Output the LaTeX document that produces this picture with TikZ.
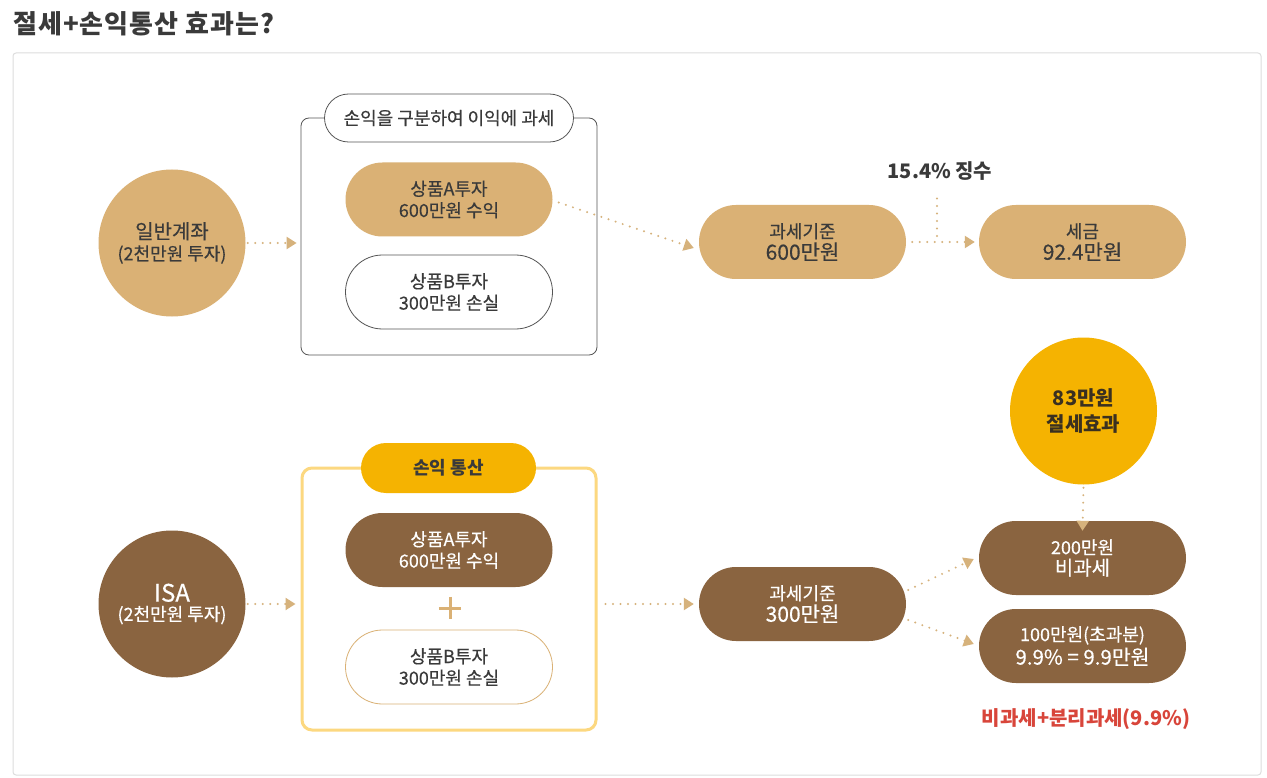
\documentclass[tikz,border=0pt]{standalone}
\usepackage{fontspec}
\setmainfont{Noto Sans CJK KR}[UprightFeatures={FakeBold=0.4}]
\usetikzlibrary{arrows.meta}
\definecolor{tan}{HTML}{DAB175}
\definecolor{dottan}{HTML}{D6B27C}
\definecolor{brown}{HTML}{8A6440}
\definecolor{amber}{HTML}{F5B301}
\definecolor{ybord}{HTML}{FCD880}
\definecolor{txt}{HTML}{3A3A3A}
\definecolor{savetxt}{HTML}{3A3020}
\definecolor{redtxt}{HTML}{D8453A}
\definecolor{grayb}{HTML}{DDDDDD}
\definecolor{darkb}{HTML}{555555}
\newcommand{\fs}[1]{\fontsize{#1}{#1}\selectfont}
\tikzset{
  pill/.style={rectangle, rounded corners=37pt, minimum width=207pt, minimum height=74pt, align=center, inner sep=0pt, font=\fs{18}, text=txt},
  tanpill/.style={pill, fill=tan},
  brownpill/.style={pill, fill=brown, text=white},
  whitepill/.style={pill, fill=white, draw=darkb, line width=0.8pt},
  bigcirc/.style={circle, minimum size=147pt, inner sep=0pt, align=center, text=txt},
  dotline/.style={draw=dottan, line width=2.2pt, line cap=round, dash pattern=on 0pt off 7.5pt},
  dotarrow/.style={dotline, -{Triangle[length=10pt,width=12pt,fill=dottan]}},
}
\begin{document}
\begin{tikzpicture}[x=1pt,y=-1pt]
\useasboundingbox (0,0) rectangle (1267,778);
\fill[white] (0,0) rectangle (1267,778);
% title
\node[anchor=west, font=\fs{26}\bfseries\addfontfeatures{LetterSpace=4}, text=txt, inner sep=0pt] (title) at (13,24) {절세+손익통산 효과는?};
% outer panel
\node[draw=grayb, line width=1pt, rounded corners=3pt, minimum width=1248pt, minimum height=722pt, inner sep=0pt] (panel) at (637,414) {};

% ---------- top row ----------
\node[bigcirc, fill=tan] (gen) at (172,243) {{\fs{20}일반계좌}\\[4pt]{\fs{18}(2천만원 투자)}};
\node[draw=darkb, line width=0.8pt, rounded corners=8pt, minimum width=296pt, minimum height=237pt, inner sep=0pt] (topbox) at (449,236.5) {};
\node[pill, fill=white, draw=darkb, line width=0.8pt, minimum width=249pt, minimum height=48pt, rounded corners=24pt] (toplbl) at (449,118) {손익을 구분하여 이익에 과세};
\node[tanpill] (pa1) at (449,199.5) {상품A투자\\[3.5pt]600만원 수익};
\node[whitepill] (pb1) at (449,292) {상품B투자\\[3.5pt]300만원 손실};
\node[tanpill] (tax1) at (802.5,242) {과세기준\\[2pt]{\fs{21}600만원}};
\node[tanpill] (fee) at (1082.5,242) {세금\\[2pt]{\fs{21}92.4만원}};
\node[font=\fs{20}\bfseries, text=txt, inner sep=0pt] (rate) at (940,171) {15.4\% 징수};
\coordinate (j) at (937,242);

\draw[dotarrow] ([xshift=2pt]gen.east) -- ([xshift=-4pt]topbox.west |- gen.east);
\draw[dotarrow] ([xshift=6pt,yshift=-3pt]pa1.east) -- ([xshift=-5pt,yshift=-6pt]tax1.west);
\draw[dotarrow] ([xshift=6pt]tax1.east) -- ([xshift=-4pt]fee.west);
\draw[dotline] ([yshift=-18pt]rate.south -| j) -- (j);

% ---------- bottom row ----------
\node[bigcirc, fill=brown, text=white] (isa) at (172,604) {{\fs{24}ISA}\\[3pt]{\fs{18}(2천만원 투자)}};
\node[draw=ybord, line width=3pt, rounded corners=10pt, minimum width=294pt, minimum height=262pt, inner sep=0pt] (botbox) at (449,599) {};
\node[pill, fill=amber, minimum width=175pt, minimum height=50pt, rounded corners=25pt, font=\fs{18}\bfseries] (botlbl) at (448.5,468) {손익 통산};
\node[brownpill] (pa2) at (449,550) {상품A투자\\[3.5pt]600만원 수익};
\node[minimum size=22pt, inner sep=0pt] (plus) at (450,608) {};
\draw[tan, line width=3pt] (plus.west) -- (plus.east) (plus.north) -- (plus.south);
\node[pill, fill=white, draw=tan, line width=0.8pt] (pb2) at (449,667) {상품B투자\\[3.5pt]300만원 손실};
\node[brownpill] (tax2) at (802.5,604) {과세기준\\[2pt]{\fs{21}300만원}};
\node[brownpill] (free) at (1082.5,558) {200만원\\[3pt]{\fs{20}비과세}};
\node[brownpill] (sep) at (1082.5,646) {100만원(초과분)\\[2pt]{\fs{20.5}9.9\% = 9.9만원}};
\node[bigcirc, fill=amber, font=\fs{20}\bfseries, text=savetxt] (save) at (1083.5,411) {83만원\\[6pt]절세효과};
\node[font=\fs{20}\bfseries, text=redtxt, inner sep=0pt] (note) at (1086,719) {비과세+분리과세(9.9\%)};

\draw[dotarrow] ([xshift=2pt]isa.east) -- ([xshift=-5pt]botbox.west |- isa.east);
\draw[dotarrow] ([xshift=8pt]botbox.east |- tax2.west) -- ([xshift=-5pt]tax2.west);
\draw[dotarrow] ([xshift=2pt,yshift=14pt]tax2.east) -- ([xshift=-5pt,yshift=-1pt]free.west);
\draw[dotarrow] ([xshift=2pt,yshift=-16pt]tax2.east) -- ([xshift=-5pt,yshift=2pt]sep.west);
\draw[dotarrow] ([yshift=-3pt]save.south) -- ([yshift=-10pt]free.north);
\end{tikzpicture}
\end{document}
